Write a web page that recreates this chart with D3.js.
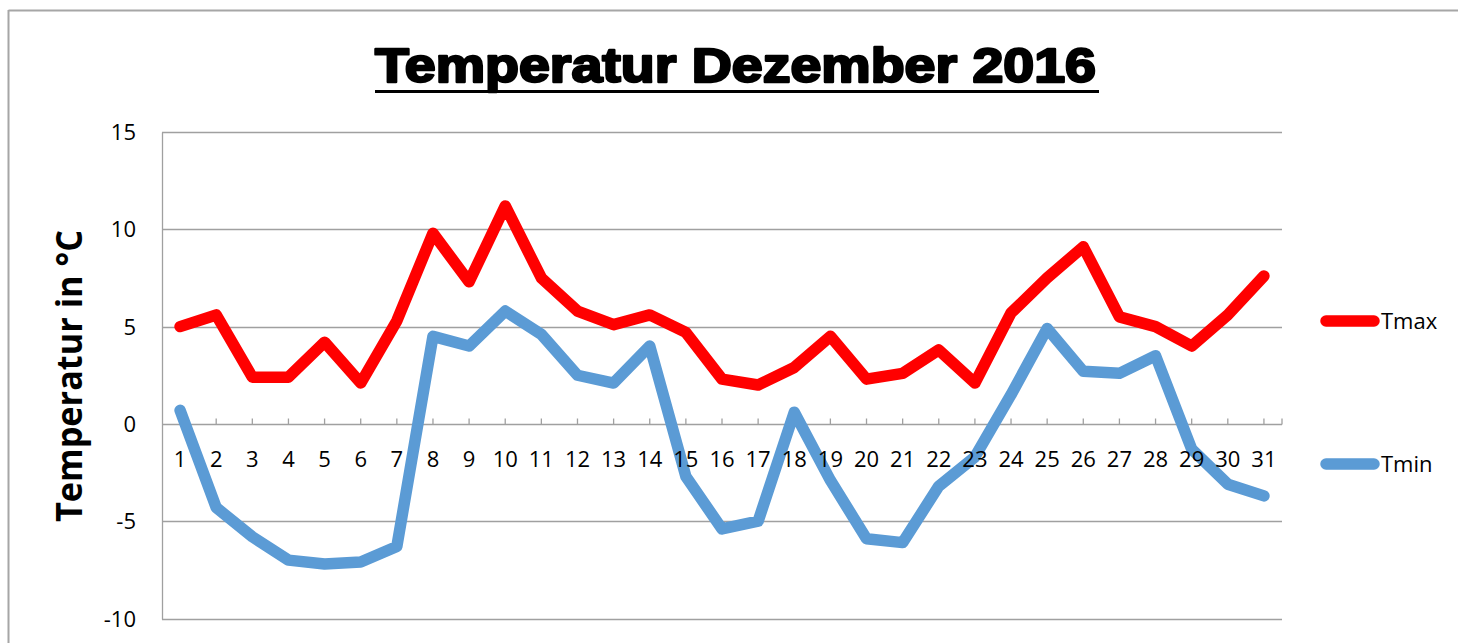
<!DOCTYPE html>
<html>
<head>
<meta charset="utf-8">
<script src="https://cdn.jsdelivr.net/npm/d3@7"></script>
<style>
  html, body { margin: 0; padding: 0; background: #fff; }
  svg { display: block; }
</style>
</head>
<body>
<svg id="chart" width="1458" height="643"></svg>
<script>
// ---- data ----
const days = d3.range(1, 32).map(String);
const tmax = [5.0, 5.6, 2.4, 2.4, 4.2, 2.1, 5.3, 9.8, 7.3, 11.2, 7.5, 5.8, 5.1, 5.6, 4.7, 2.3,
              2.0, 2.9, 4.5, 2.3, 2.6, 3.8, 2.1, 5.7, 7.5, 9.1, 5.5, 5.0, 4.0, 5.6, 7.6];
const tmin = [0.7, -4.3, -5.8, -7.0, -7.2, -7.1, -6.3, 4.5, 4.0, 5.8, 4.6, 2.5, 2.1, 4.0, -2.7, -5.4,
              -5.0, 0.6, -2.9, -5.9, -6.1, -3.2, -1.7, 1.5, 4.9, 2.7, 2.6, 3.5, -1.3, -3.1, -3.7];
const yTicks = [-10, -5, 0, 5, 10, 15];
const seriesNames = ["Tmax", "Tmin"];
const seriesColors = ["#ff0000", "#5b9bd5"];
const titleText = "Temperatur Dezember 2016";
const yTitle = "Temperatur in °C";

// ---- layout ----
const svg = d3.select("#chart");
const plot = { left: 162, right: 1282, top: 132, bottom: 618.5 };
const gridColor = "#a0a0a0";
const font = "'Open Sans', 'Liberation Sans', sans-serif";

// chart frame
svg.append("line").attr("x1", 8.5).attr("x2", 1458).attr("y1", 10.5).attr("y2", 10.5)
  .attr("stroke", "#a6a6a6").attr("stroke-width", 2);
svg.append("line").attr("x1", 8.5).attr("x2", 8.5).attr("y1", 10).attr("y2", 643)
  .attr("stroke", "#a6a6a6").attr("stroke-width", 2);

const x = d3.scaleBand().domain(days).range([plot.left, plot.right]).paddingInner(0).paddingOuter(0);
const cx = d => x(d) + x.bandwidth() / 2;
const y = d3.scaleLinear().domain([-10, 15]).range([plot.bottom, plot.top]);

// gridlines
svg.append("g").selectAll("line").data(yTicks).join("line")
  .attr("x1", plot.left).attr("x2", plot.right)
  .attr("y1", d => Math.round(y(d)) + 0.5).attr("y2", d => Math.round(y(d)) + 0.5)
  .attr("stroke", gridColor).attr("stroke-width", 1.3);

// left axis line
svg.append("line").attr("x1", plot.left + 0.5).attr("x2", plot.left + 0.5)
  .attr("y1", Math.round(y(15)) + 0.5).attr("y2", Math.round(y(-10)) + 0.5)
  .attr("stroke", gridColor).attr("stroke-width", 1.3);

// y tick labels
svg.append("g").selectAll("text").data(yTicks).join("text")
  .attr("x", 136).attr("y", d => y(d) + 8)
  .attr("text-anchor", "end")
  .attr("font-family", font).attr("font-size", 22).attr("fill", "#000")
  .text(d => d);

// x axis tick marks (at category centers + right end), pointing up from zero
const zeroY = Math.round(y(0)) + 0.5;
const tickXs = days.map(cx).concat([plot.right]);
svg.append("g").selectAll("line").data(tickXs).join("line")
  .attr("x1", d => d).attr("x2", d => d)
  .attr("y1", zeroY - 6).attr("y2", zeroY)
  .attr("stroke", gridColor).attr("stroke-width", 1.3);

// lines
const line = d3.line().x((d, i) => cx(days[i])).y(d => y(d));
[tmax, tmin].forEach((s, k) => {
  svg.append("path").datum(s)
    .attr("d", line)
    .attr("fill", "none")
    .attr("stroke", seriesColors[k])
    .attr("stroke-width", 11.5)
    .attr("stroke-linejoin", "round")
    .attr("stroke-linecap", "round");
});

// x labels (drawn above the lines)
svg.append("g").selectAll("text").data(days).join("text")
  .attr("x", d => cx(d)).attr("y", 467)
  .attr("text-anchor", "middle")
  .attr("font-family", font).attr("font-size", 22).attr("fill", "#000")
  .text(d => d);

// legend
const legendY = [321, 464];
seriesNames.forEach((name, k) => {
  svg.append("line")
    .attr("x1", 1326).attr("x2", 1374)
    .attr("y1", legendY[k]).attr("y2", legendY[k])
    .attr("stroke", seriesColors[k]).attr("stroke-width", 11.5)
    .attr("stroke-linecap", "round");
  svg.append("text")
    .attr("x", 1381).attr("y", legendY[k] + 8)
    .attr("font-family", font).attr("font-size", 22).attr("fill", "#000")
    .text(name);
});

// title
svg.append("text")
  .attr("x", 375).attr("y", 82)
  .attr("font-family", "'Liberation Sans', Arial, sans-serif")
  .attr("font-weight", 900).attr("font-size", 48)
  .attr("fill", "#000").attr("stroke", "#000").attr("stroke-width", 2.4)
  .attr("stroke-linejoin", "round")
  .attr("textLength", 721).attr("lengthAdjust", "spacingAndGlyphs")
  .text(titleText);
svg.append("line").attr("x1", 375).attr("x2", 1099).attr("y1", 91.5).attr("y2", 91.5)
  .attr("stroke", "#000").attr("stroke-width", 3);

// y axis title
svg.append("text")
  .attr("transform", "translate(82,376) rotate(-90)")
  .attr("text-anchor", "middle")
  .attr("font-family", font).attr("font-weight", 700).attr("font-size", 36)
  .attr("textLength", 292).attr("lengthAdjust", "spacingAndGlyphs")
  .attr("fill", "#000")
  .text(yTitle);
</script>
</body>
</html>
